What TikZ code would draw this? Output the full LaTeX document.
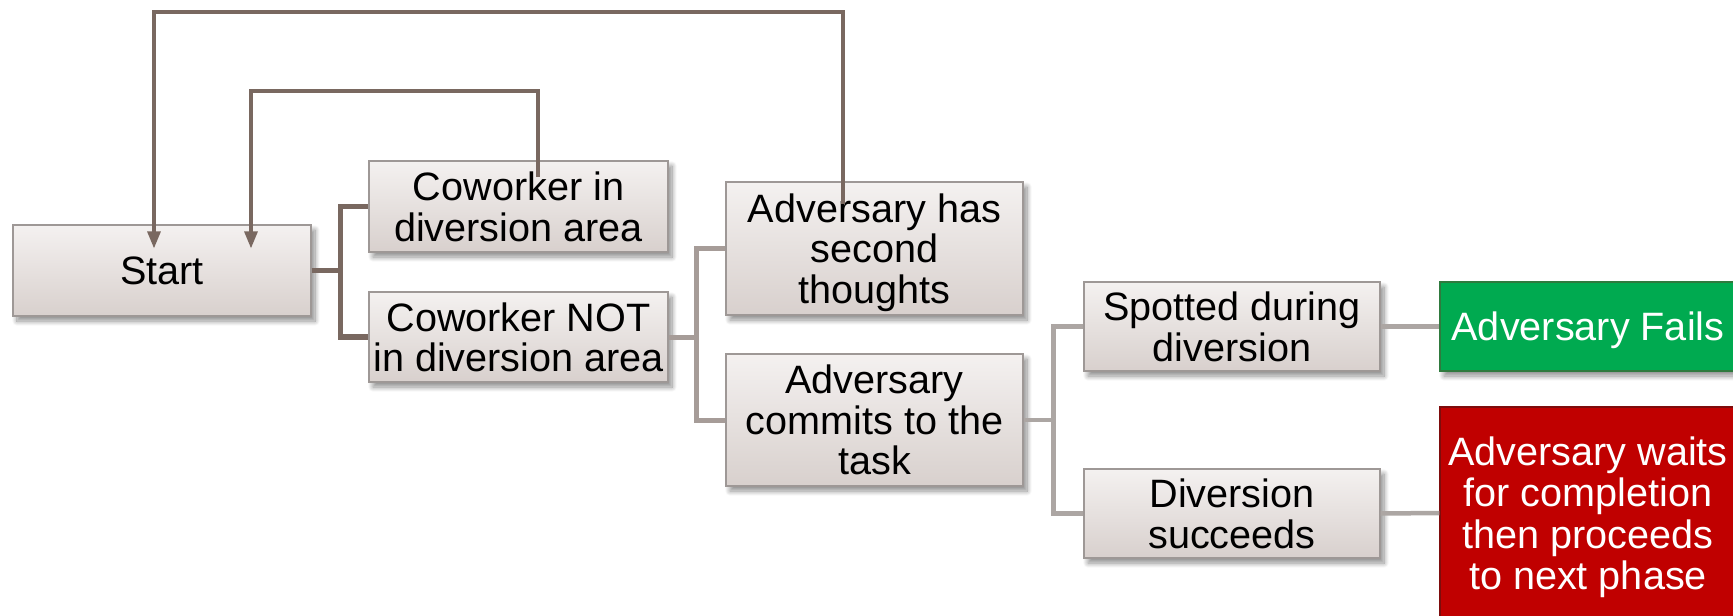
\documentclass[tikz,border=0pt]{standalone}
\usepackage{fontspec}
\setmainfont{Liberation Sans}
\usetikzlibrary{arrows.meta,calc,shadows,shadows.blur}

\definecolor{boxtop}{HTML}{F4F1F0}
\definecolor{boxbot}{HTML}{D8D0CD}
\definecolor{boxline}{HTML}{9E9896}
\definecolor{linkA}{HTML}{796860}
\definecolor{linkB}{HTML}{A69C98}
\definecolor{linkC}{HTML}{ACA6A3}
\definecolor{failgreen}{HTML}{00AA50}
\definecolor{failline}{HTML}{2F7A3E}
\definecolor{waitred}{HTML}{C00000}
\definecolor{waitline}{HTML}{7E0C0C}

\tikzset{
  x=1pt, y=-1pt,
  boxshadow/.style={blur shadow={shadow xshift=4pt, shadow yshift=-5pt,
      shadow blur radius=5pt, shadow blur steps=10, shadow opacity=45}},
  stepbox/.style={rectangle, draw=boxline, line width=1.2pt,
      top color=boxtop, bottom color=boxbot, boxshadow,
      align=center, inner sep=0pt, text=black, text depth=0pt,
      font=\fontsize{39.6}{40.5}\selectfont},
  goodend/.style={stepbox, top color=failgreen, bottom color=failgreen,
      draw=failline, text=white},
  badend/.style={stepbox, top color=waitred, bottom color=waitred,
      draw=waitline, text=white, font=\fontsize{39.6}{41.5}\selectfont},
  linkA/.style={draw=linkA, line width=5.5pt},
  linkB/.style={draw=linkB, line width=5pt},
  linkC/.style={draw=linkC, line width=4.5pt},
  loopback/.style={draw=linkA, line width=3.2pt,
      -{Triangle[length=17pt,width=13pt]}},
}

\begin{document}
\begin{tikzpicture}
\useasboundingbox (0,0) rectangle (1733,616);

% first level
\node[stepbox, minimum width=298pt, minimum height=91pt] (start) at (162,270.5) {Start};

% second level
\node[stepbox, minimum width=299pt, minimum height=91pt] (cin) at (518.5,206.5)
  {Coworker in\\diversion area};
\node[stepbox, minimum width=299pt, minimum height=90pt] (cnot) at (518.5,337)
  {Coworker NOT\\in diversion area};

% third level
\node[stepbox, minimum width=297pt, minimum height=133pt] (second) at (874.5,248.5)
  {Adversary has\\second\\thoughts};
\node[stepbox, minimum width=297pt, minimum height=132pt] (commit) at (874.5,420)
  {Adversary\\commits to the\\task};

% fourth level
\node[stepbox, minimum width=296pt, minimum height=89pt] (spotted) at (1232,326.5)
  {Spotted during\\diversion};
\node[stepbox, minimum width=296pt, minimum height=89pt] (succeeds) at (1232,513.5)
  {Diversion\\succeeds};

% outcomes
\node[goodend, minimum width=296pt, minimum height=89pt] (fails) at (1588,326.5)
  {Adversary Fails};
\node[badend, minimum width=296pt, minimum height=212pt] (waits) at (1588,513)
  {Adversary waits\\for completion\\then proceeds\\to next phase};

% tree connectors
\draw[linkA] (start.east) -- ++(29,0) coordinate (forkA) |- (cin.west);
\draw[linkA] (forkA) |- (cnot.west);
\draw[linkB] (cnot.east) -- ++(28,0) coordinate (forkB) |- (second.west);
\draw[linkB] (forkB) |- (commit.west);
\draw[linkC] (commit.east) -- ++(30,0) coordinate (forkC) |- (spotted.west);
\draw[linkC] (forkC) |- (succeeds.west);
\draw[linkC] (spotted.east) -- (fails.west);
\draw[linkC] (succeeds.east) -- (waits.west);

% loops back to the start
\coordinate (cinTail) at ($(cin.center)+(19.5,-29.5)$);
\coordinate (cinHead) at ($(start.north)+(89,24)$);
\draw[loopback] (cinTail) -- (cinTail |- 0,91) -| (cinHead);

\coordinate (secTail) at ($(second.center)+(-31.5,-44.5)$);
\coordinate (secHead) at ($(start.north)+(-8,24)$);
\draw[loopback] (secTail) -- (secTail |- 0,12) -| (secHead);
\end{tikzpicture}
\end{document}
